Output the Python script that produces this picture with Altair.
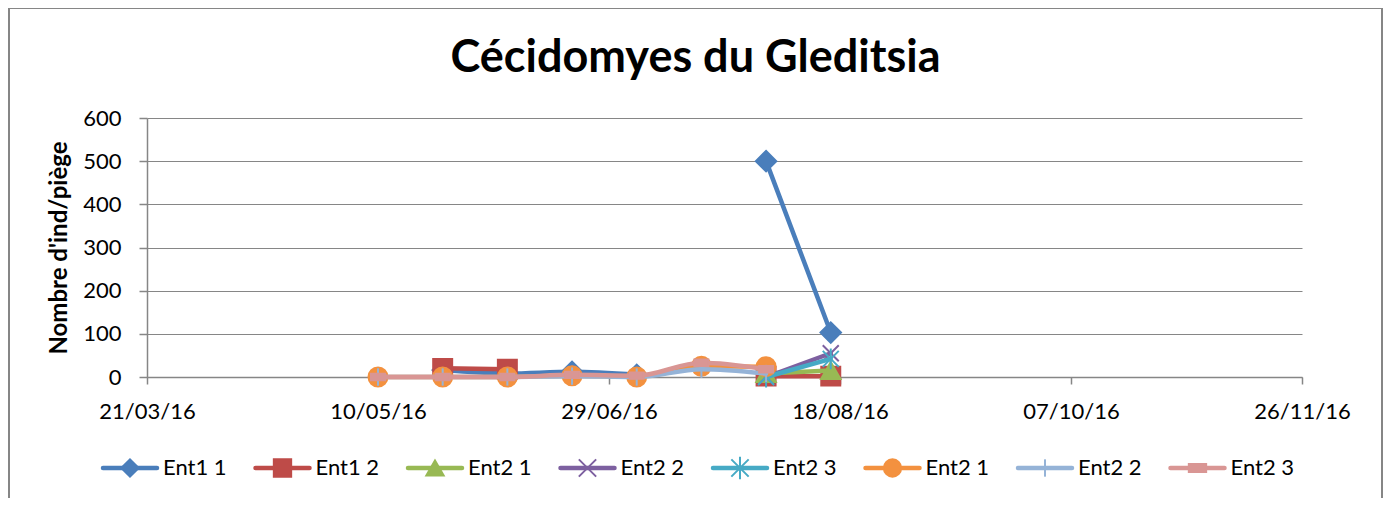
import altair as alt
import pandas as pd

# ---------------- data ----------------
dates = ["2016-05-10", "2016-05-24", "2016-06-07", "2016-06-21",
         "2016-07-05", "2016-07-19", "2016-08-02", "2016-08-16"]

series_keys = ["s1", "s2", "s3", "s4", "s5", "s6", "s7", "s8"]
series_labels = ["Ent1 1", "Ent1 2", "Ent2 1", "Ent2 2",
                 "Ent2 3", "Ent2 1", "Ent2 2", "Ent2 3"]

ent1_1 = [None, 16, 8, 12, 5, None, 500, 103]
ent1_2 = [None, 20, 18, None, None, None, 2, 2]
ent2_1a = [None, None, None, None, None, None, 8, 15]
ent2_2a = [None, None, None, None, None, None, 0, 55]
ent2_3a = [None, None, None, None, None, None, 0, 42]
ent2_1b = [0, 0, 0, 3, 0, 25, 24, None]
ent2_2b = [0, 0, 0, 2, 0, 18, 8, None]
ent2_3b = [0, 0, 0, 5, 3, 33, 18, None]

series_values = [ent1_1, ent1_2, ent2_1a, ent2_2a, ent2_3a, ent2_1b, ent2_2b, ent2_3b]

colors = ["#4A7EBB", "#BE4B48", "#98B954", "#7D60A0",
          "#46AAC5", "#F3913F", "#95B3D7", "#D99694"]
shapes = ["diamond", "square", "triangle-up",
          "M-1,-1L1,1M-1,1L1,-1",
          "M-1,-1L1,1M-1,1L1,-1M0,-1.3L0,1.3",
          "circle",
          "M0,-1L0,1",
          "M-1,-0.45L1,-0.45L1,0.45L-1,0.45Z"]
sizes = [420, 360, 380, 256, 256, 361, 300, 196]

x_ticks = ["2016-03-21", "2016-05-10", "2016-06-29", "2016-08-18",
           "2016-10-07", "2016-11-26"]
y_ticks = [0, 100, 200, 300, 400, 500, 600]

FONT = "Lato"
GRAY = "#868686"


def dt(s):
    y, m, d = (int(p) for p in s.split("-"))
    return alt.DateTime(year=y, month=m, date=d, utc=True)


# long table with segment ids (gaps break the line)
rows = []
for key, label, vals in zip(series_keys, series_labels, series_values):
    seg = 0
    for d, v in zip(dates, vals):
        if v is None:
            seg += 1
            continue
        rows.append({"key": key, "label": label, "date": d, "value": v, "seg": seg})
df = pd.DataFrame(rows)

x_enc = alt.X(
    "date:T",
    scale=alt.Scale(type="utc", domain=[dt(x_ticks[0]), dt(x_ticks[-1])]),
    axis=alt.Axis(
        values=[dt(t) for t in x_ticks],
        labelExpr="utcFormat(datum.value, '%d/%m/%y')",
        grid=False, title=None, tickSize=7, tickColor=GRAY, domainColor=GRAY,
        domainWidth=1.5, tickWidth=1.5, labelFont=FONT, labelFontSize=22,
        labelColor="black", labelPadding=17, labelFlush=False, labelOverlap=False,
    ),
)
y_enc = alt.Y(
    "value:Q",
    scale=alt.Scale(domain=[0, 600], nice=False),
    axis=alt.Axis(
        values=y_ticks, title="Nombre d'ind/piège", titleFont=FONT,
        titleFontSize=24, titleFontWeight="bold", titleColor="black",
        titlePadding=11, grid=True, gridColor=GRAY, gridWidth=1,
        tickSize=8, tickColor=GRAY, tickWidth=1.5, domainColor=GRAY,
        domainWidth=1.5, labelFont=FONT, labelFontSize=22, labelColor="black",
        labelPadding=18,
    ),
)

layers = []
for i, key in enumerate(series_keys):
    base = alt.Chart(df).transform_filter(alt.datum.key == key)
    line = base.mark_line(
        interpolate="monotone", strokeWidth=4.5, color=colors[i],
        strokeCap="round", strokeJoin="round",
    ).encode(x=x_enc, y=y_enc, detail="seg:N")
    pts = base.mark_point(
        shape=shapes[i], size=sizes[i], filled=True, fill=colors[i],
        stroke=colors[i], strokeWidth=2, opacity=1,
    ).encode(x=x_enc, y=y_enc)
    layers += [line, pts]
main = alt.layer(*layers)

# ---------------- legend (drawn from the series table) ----------------
leg_df = pd.DataFrame({"idx": list(range(len(series_keys))),
                       "key": series_keys, "label": series_labels})
leg_x = alt.X("idx:Q", scale=alt.Scale(domain=[0.1115, 7.6853], nice=False, zero=False),
              axis=None)
col_scale = alt.Scale(domain=series_keys, range=colors)
leg_base = alt.Chart(leg_df)
leg_line = leg_base.mark_point(
    shape="M-1,0L1,0", size=2916, strokeWidth=4.5, strokeCap="round", opacity=1,
).encode(x=leg_x, y=alt.value(350),
         stroke=alt.Stroke("key:N", scale=col_scale, legend=None))
leg_mark = leg_base.mark_point(size=300, strokeWidth=2, opacity=1).encode(
    x=leg_x, y=alt.value(350),
    shape=alt.Shape("key:N", scale=alt.Scale(domain=series_keys, range=shapes), legend=None),
    fill=alt.Fill("key:N", scale=col_scale, legend=None),
    stroke=alt.Stroke("key:N", scale=col_scale, legend=None),
)
leg_text = leg_base.mark_text(
    align="left", baseline="middle", dx=33, font=FONT, fontSize=22, color="black",
).encode(x=leg_x, y=alt.value(350), text="label:N")
legend = alt.layer(leg_line, leg_mark, leg_text)

border = alt.Chart(leg_df.head(1)).mark_rect(
    fill="transparent", stroke=GRAY, strokeWidth=2,
).encode(x=alt.value(-138), x2=alt.value(1235), y=alt.value(-110), y2=alt.value(402))

chart = alt.layer(main, legend, border).resolve_scale(
    x="independent", y="independent"
).properties(
    width=1155, height=259,
    autosize=alt.AutoSizeParams(type="none"),
    padding={"left": 139, "top": 110, "right": 81, "bottom": 121},
    title=alt.TitleParams(
        "Cécidomyes du Gleditsia", font=FONT, fontSize=45, fontWeight="bold",
        color="black", anchor="middle", frame="group", dx=-29, offset=-110,
        baseline="alphabetic",
    ),
).configure_view(stroke=None)

chart.save("out.html", embed_options={"renderer": "svg", "actions": False})
